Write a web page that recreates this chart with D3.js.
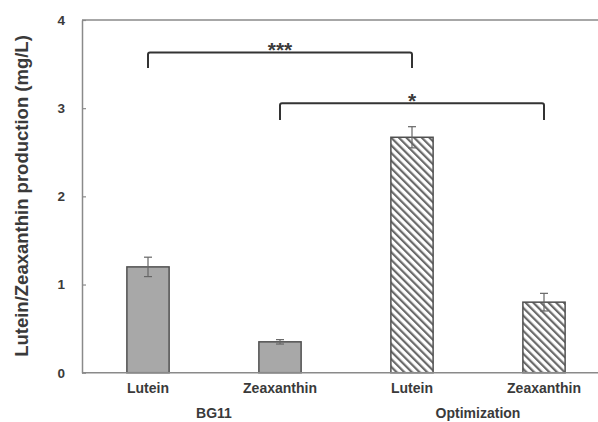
<!DOCTYPE html>
<html>
<head>
<meta charset="utf-8">
<script src="https://cdn.jsdelivr.net/npm/d3@7"></script>
<style>
  html, body { margin: 0; padding: 0; background: #fff; }
  svg { display: block; }
  text { font-family: "Liberation Sans", Arial, sans-serif; font-weight: bold; fill: #3a3a3a; }
</style>
</head>
<body>
<svg id="chart" width="598" height="422"></svg>
<script>
// Lutein / zeaxanthin production under two culture media
const categories = ["BG11 Lutein", "BG11 Zeaxanthin", "Opt Lutein", "Opt Zeaxanthin"];
const barLabels = ["Lutein", "Zeaxanthin", "Lutein", "Zeaxanthin"];
const groups = ["BG11", "Optimization"];
const groupOf = [0, 0, 1, 1];
const values = [1.20, 0.35, 2.67, 0.80];
const errors = [0.11, 0.025, 0.12, 0.10];
const yTicks = [0, 1, 2, 3, 4];
// significance brackets: [from index, to index, level (mg/L), leg drop, label]
const brackets = [
  { from: 0, to: 2, level: 3.63, drop: 0.175, label: "***" },
  { from: 1, to: 3, level: 3.055, drop: 0.19, label: "*" }
];

const svg = d3.select("#chart");
const margin = { left: 82, top: 20 };
const plotW = 528, plotH = 352.7;

const x = d3.scaleBand().domain(categories).range([margin.left, margin.left + plotW]).paddingInner(0.68).paddingOuter(0.34);
const y = d3.scaleLinear().domain([0, 4]).range([margin.top + plotH, margin.top]);

// diagonal hatch (top-left to bottom-right) for the optimized medium
const defs = svg.append("defs");
const pat = defs.append("pattern")
  .attr("id", "hatch").attr("patternUnits", "userSpaceOnUse")
  .attr("width", 5.4).attr("height", 5.4)
  .attr("patternTransform", "rotate(-45)");
pat.append("rect").attr("width", 5.4).attr("height", 5.4).attr("fill", "#fff");
pat.append("line").attr("x1", 0).attr("y1", 0).attr("x2", 0).attr("y2", 5.4)
  .attr("stroke", "#6a6a6a").attr("stroke-width", 4.4);

// frame: left axis, top and bottom lines
const axisColor = "#8a8a8a";
svg.append("line").attr("x1", margin.left).attr("x2", margin.left + plotW)
  .attr("y1", y(4)).attr("y2", y(4)).attr("stroke", axisColor).attr("stroke-width", 1.5);

const yAxis = d3.axisLeft(y).tickValues(yTicks).tickFormat(d3.format("d")).tickSizeInner(-4).tickSizeOuter(0).tickPadding(17);
const gy = svg.append("g").attr("transform", `translate(${margin.left},0)`).call(yAxis);
gy.select(".domain").attr("stroke", axisColor).attr("stroke-width", 1.5);
gy.selectAll(".tick line").attr("stroke", axisColor).attr("stroke-width", 1.2);
gy.selectAll(".tick text").attr("font-size", 13.5).attr("font-weight", "bold")
  .attr("font-family", "Liberation Sans, Arial, sans-serif").attr("fill", "#3a3a3a");

// bars
svg.append("g").selectAll("rect").data(categories).join("rect")
  .attr("x", d => x(d))
  .attr("width", x.bandwidth())
  .attr("y", (d, i) => y(values[i]))
  .attr("height", (d, i) => y(0) - y(values[i]))
  .attr("fill", (d, i) => groupOf[i] === 0 ? "#a8a8a8" : "url(#hatch)")
  .attr("stroke", "#505050").attr("stroke-width", 1.5);

// error bars
const eb = svg.append("g").attr("stroke", "#666").attr("stroke-width", 1.2);
categories.forEach((c, i) => {
  const cx = x(c) + x.bandwidth() / 2;
  const y1 = y(values[i] + errors[i]), y2 = y(values[i] - errors[i]);
  eb.append("line").attr("x1", cx).attr("x2", cx).attr("y1", y1).attr("y2", y2);
  eb.append("line").attr("x1", cx - 4).attr("x2", cx + 4).attr("y1", y1).attr("y2", y1);
  eb.append("line").attr("x1", cx - 4).attr("x2", cx + 4).attr("y1", y2).attr("y2", y2);
});

// baseline
svg.append("line").attr("x1", margin.left).attr("x2", margin.left + plotW)
  .attr("y1", y(0)).attr("y2", y(0)).attr("stroke", axisColor).attr("stroke-width", 1.5);

// category labels
svg.append("g").selectAll("text").data(categories).join("text")
  .attr("x", d => x(d) + x.bandwidth() / 2)
  .attr("y", 393)
  .attr("text-anchor", "middle")
  .attr("font-size", 14)
  .text((d, i) => barLabels[i]);

// group labels
groups.forEach((g, gi) => {
  const members = categories.filter((c, i) => groupOf[i] === gi);
  const cx = d3.mean(members, c => x(c) + x.bandwidth() / 2);
  svg.append("text").attr("x", cx).attr("y", 418).attr("text-anchor", "middle")
    .attr("font-size", 14).text(g);
});

// significance brackets
brackets.forEach(b => {
  const x1 = x(categories[b.from]) + x.bandwidth() / 2;
  const x2 = x(categories[b.to]) + x.bandwidth() / 2;
  const yt = y(b.level), yb = y(b.level - b.drop);
  const r = 2;
  svg.append("path")
    .attr("d", `M${x1},${yb} V${yt + r} Q${x1},${yt} ${x1 + r},${yt} H${x2 - r} Q${x2},${yt} ${x2},${yt + r} V${yb}`)
    .attr("fill", "none").attr("stroke", "#333").attr("stroke-width", 2);
  svg.append("text").attr("x", (x1 + x2) / 2).attr("y", yt + 4.5)
    .attr("text-anchor", "middle").attr("font-size", 21).attr("fill", "#333").text(b.label);
});

// y axis title
svg.append("text")
  .attr("transform", `translate(28,196) rotate(-90)`)
  .attr("text-anchor", "middle")
  .attr("font-size", 18.5)
  .text("Lutein/Zeaxanthin  production (mg/L)");
</script>
</body>
</html>
